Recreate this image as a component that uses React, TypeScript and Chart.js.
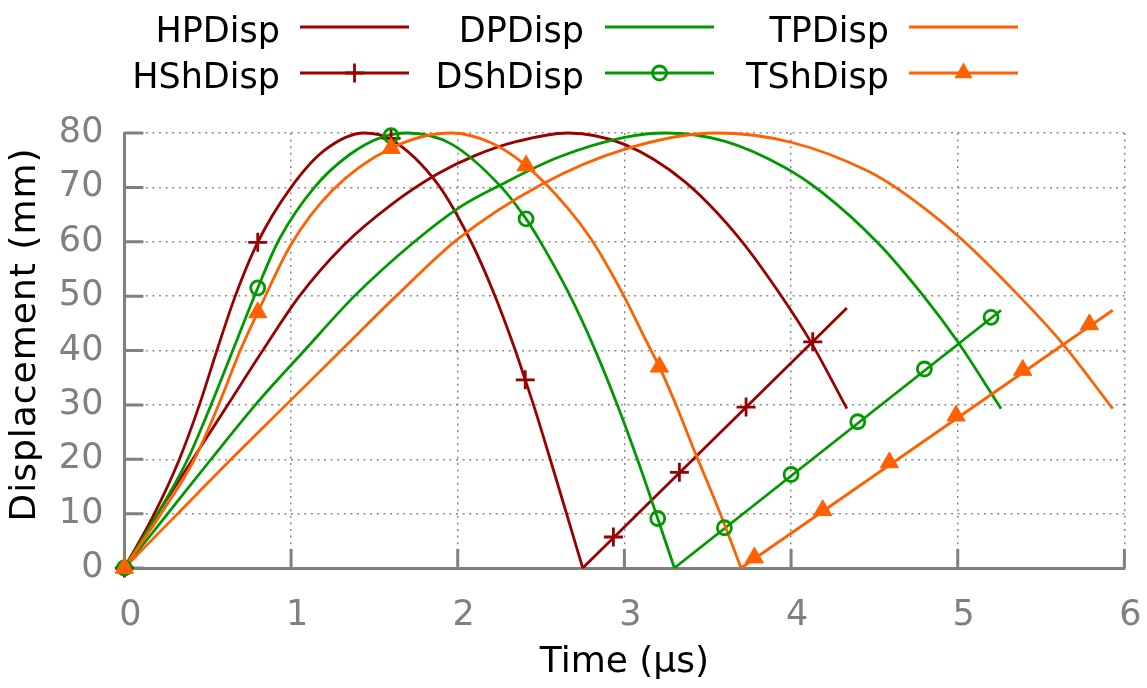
import React, { useEffect, useRef } from "react";
import { Chart, registerables } from "chart.js";

Chart.register(...registerables);

type Pt = [number, number];

// ---------------- data ----------------
const xTickValues = [0, 1, 2, 3, 4, 5, 6];
const yTickValues = [0, 10, 20, 30, 40, 50, 60, 70, 80];
const legendLabels = ["HPDisp", "DPDisp", "TPDisp", "HShDisp", "DShDisp", "TShDisp"];
const xTitle = "Time (μs)";
const yTitle = "Displacement (mm)";

// plain-line series
const hpDisp: Pt[] = [
  [0, 0], [0.2, 10], [0.41, 20], [0.62, 30], [0.83, 40], [1.05, 50], [1.32, 59.5], [1.6, 66.8],
  [1.88, 72.5], [2.1, 75.8], [2.35, 78.4], [2.66, 80], [3.0, 77.9], [3.36, 71.1], [3.68, 61],
  [3.92, 51], [4.12, 41.5], [4.335, 29.3],
];
const dpDisp: Pt[] = [
  [0, 0], [0.26, 10], [0.52, 20], [0.8, 30.5], [1.08, 40], [1.38, 50], [1.74, 60], [2.02, 66.5],
  [2.26, 70.5], [2.6, 75.5], [3.0, 79.2], [3.25, 80], [3.6, 78.5], [3.96, 73.7], [4.18, 69.2],
  [4.52, 59.8], [4.8, 49.8], [5.0, 41.6], [5.26, 29.3],
];
const tpDisp: Pt[] = [
  [0, 0], [0.32, 10], [0.64, 20], [0.97, 30], [1.3, 40], [1.63, 50], [2.0, 60.5], [2.5, 70.5],
  [3.0, 77], [3.55, 80], [4.0, 78.3], [4.46, 73], [4.66, 69.3], [5.0, 61.1], [5.35, 50.6],
  [5.62, 41.6], [5.93, 29.3],
];

// shock series: arc part, then straight part after the bounce
const hShArc: Pt[] = [
  [0, 0], [0.18, 10], [0.33, 20], [0.45, 30], [0.555, 40], [0.665, 50], [0.8, 59.9], [1.0, 70],
  [1.2, 76.8], [1.44, 80], [1.6, 78.8], [1.88, 70.6], [2.08, 60], [2.22, 50.3], [2.34, 40.5],
  [2.405, 34.6], [2.46, 29.5], [2.55, 20.5], [2.65, 10.3], [2.75, 0],
];
const hShRay: Pt[] = [[2.75, 0], [4.335, 47.8]];
const hShMarks: Pt[] = [
  [0, 0], [0.8, 59.9], [1.6, 79], [2.405, 34.6], [2.934, 5.7], [3.33, 17.6], [3.73, 29.6], [4.13, 41.6],
];

const dShArc: Pt[] = [
  [0, 0], [0.2, 10], [0.38, 20], [0.52, 30], [0.65, 40], [0.8, 51.5], [0.93, 60.5], [1.14, 70],
  [1.35, 76], [1.55, 79.3], [1.7, 80], [1.96, 78], [2.26, 70.1], [2.41, 64.2], [2.49, 60.3],
  [2.66, 50.9], [2.82, 40.4], [2.96, 29.8], [3.08, 19.8], [3.2, 9.1], [3.3, 0],
];
const dShRay: Pt[] = [[3.3, 0], [5.26, 47.4]];
const dShMarks: Pt[] = [
  [0, 0], [0.8, 51.5], [1.6, 79.5], [2.41, 64.2], [3.2, 9.1], [3.6, 7.4], [4.0, 17.2], [4.4, 26.9],
  [4.8, 36.6], [5.2, 46.1],
];

const tShArc: Pt[] = [
  [0, 0], [0.22, 10], [0.42, 20], [0.565, 30], [0.695, 40], [0.8, 47], [1.0, 59.5], [1.25, 69.5],
  [1.6, 77.2], [1.96, 80], [2.2, 78.2], [2.41, 74], [2.66, 66.2], [2.8, 60.5], [2.98, 51],
  [3.14, 41.2], [3.21, 37], [3.3, 30.7], [3.43, 20.8], [3.57, 10.4], [3.7, 0],
];
const tShRay: Pt[] = [[3.7, 0], [5.93, 47.4]];
const tShMarks: Pt[] = [
  [0, 0], [0.8, 47], [1.6, 77.2], [2.41, 74], [3.21, 37], [3.78, 1.9], [4.19, 10.6], [4.59, 19.4],
  [4.99, 28.0], [5.39, 36.4], [5.79, 44.8],
];

// ---------------- style ----------------
const RED = "#990000";
const GREEN = "#009900";
const ORANGE = "#ff6000";
const AXIS = "#808080";
const GRID = "#8a8a8a";
const FAMILY = "'DejaVu Sans', 'Verdana', sans-serif";
const LINE_W = 2.8;
const CROSS_R = 9.5;
const CIRCLE_R = 7;
const TRI_R = 10.5;

type MarkerKind = "cross" | "circle" | "triangle" | null;

const toXY = (pts: Pt[]) => pts.map(([x, y]) => ({ x, y }));

function drawMarker(ctx: CanvasRenderingContext2D, kind: MarkerKind, x: number, y: number, color: string) {
  if (!kind) return;
  ctx.save();
  ctx.strokeStyle = color;
  ctx.fillStyle = color;
  ctx.lineWidth = LINE_W;
  ctx.beginPath();
  if (kind === "cross") {
    ctx.moveTo(x - CROSS_R, y);
    ctx.lineTo(x + CROSS_R, y);
    ctx.moveTo(x, y - CROSS_R);
    ctx.lineTo(x, y + CROSS_R);
    ctx.stroke();
  } else if (kind === "circle") {
    ctx.arc(x, y, CIRCLE_R, 0, Math.PI * 2);
    ctx.stroke();
  } else {
    const r = TRI_R;
    ctx.moveTo(x, y - r);
    ctx.lineTo(x + r * Math.sin((2 * Math.PI) / 3), y - r * Math.cos((2 * Math.PI) / 3));
    ctx.lineTo(x + r * Math.sin((4 * Math.PI) / 3), y - r * Math.cos((4 * Math.PI) / 3));
    ctx.closePath();
    ctx.fill();
  }
  ctx.restore();
}

const legendEntries: { label: string; color: string; marker: MarkerKind; col: number; row: number }[] = [
  { label: legendLabels[0], color: RED, marker: null, col: 0, row: 0 },
  { label: legendLabels[1], color: GREEN, marker: null, col: 1, row: 0 },
  { label: legendLabels[2], color: ORANGE, marker: null, col: 2, row: 0 },
  { label: legendLabels[3], color: RED, marker: "cross", col: 0, row: 1 },
  { label: legendLabels[4], color: GREEN, marker: "circle", col: 1, row: 1 },
  { label: legendLabels[5], color: ORANGE, marker: "triangle", col: 2, row: 1 },
];
const legendCols = [
  { textRight: 280, x1: 300, x2: 409 },
  { textRight: 584, x1: 605, x2: 714 },
  { textRight: 889, x1: 909, x2: 1018 },
];
const legendRows = [
  { base: 42, line: 27 },
  { base: 88, line: 73 },
];

const decorPlugin = {
  id: "decor",
  beforeDatasetsDraw(chart: any) {
    const { ctx, chartArea: a, scales } = chart;
    ctx.save();
    ctx.strokeStyle = AXIS;
    ctx.lineWidth = 3;
    ctx.beginPath();
    for (const v of yTickValues) {
      const y = scales.y.getPixelForValue(v);
      ctx.moveTo(a.left, y);
      ctx.lineTo(a.left + 19, y);
    }
    for (const v of xTickValues) {
      const x = scales.x.getPixelForValue(v);
      ctx.moveTo(x, a.bottom);
      ctx.lineTo(x, a.bottom - 19);
    }
    ctx.stroke();
    ctx.restore();
  },
  afterDraw(chart: any) {
    const { ctx, chartArea: a } = chart;
    // y axis title
    ctx.save();
    ctx.translate(26, (a.top + a.bottom) / 2 - 16);
    ctx.rotate(-Math.PI / 2);
    ctx.fillStyle = "#000";
    ctx.font = `36px ${FAMILY}`;
    try {
      (ctx as any).letterSpacing = "1px";
    } catch (e) {}
    ctx.textAlign = "center";
    ctx.textBaseline = "middle";
    ctx.fillText(yTitle, 0, 0);
    ctx.restore();

    // legend
    ctx.save();
    ctx.font = `35px ${FAMILY}`;
    ctx.textAlign = "right";
    ctx.textBaseline = "alphabetic";
    for (const e of legendEntries) {
      const c = legendCols[e.col];
      const r = legendRows[e.row];
      ctx.fillStyle = "#000";
      ctx.fillText(e.label, c.textRight, r.base);
      ctx.strokeStyle = e.color;
      ctx.lineWidth = LINE_W;
      ctx.beginPath();
      ctx.moveTo(c.x1, r.line);
      ctx.lineTo(c.x2, r.line);
      ctx.stroke();
      drawMarker(ctx, e.marker, (c.x1 + c.x2) / 2, r.line, e.color);
    }
    ctx.restore();
  },
};

function curve(label: string, pts: Pt[], color: string, order: number, smooth: boolean) {
  return {
    type: "line" as const,
    label,
    data: toXY(pts),
    borderColor: color,
    backgroundColor: color,
    borderWidth: LINE_W,
    pointRadius: 0,
    pointHoverRadius: 0,
    fill: false,
    cubicInterpolationMode: smooth ? ("monotone" as const) : ("default" as const),
    tension: smooth ? 0.4 : 0,
    clip: false as const,
    order,
  };
}

function marks(label: string, pts: Pt[], color: string, style: string, radius: number, filled: boolean, order: number) {
  return {
    type: "line" as const,
    label,
    data: toXY(pts),
    showLine: false,
    pointStyle: style,
    pointRadius: radius,
    pointHoverRadius: radius,
    pointBorderWidth: filled ? 1 : LINE_W,
    pointBorderColor: color,
    pointBackgroundColor: filled ? color : "rgba(0,0,0,0)",
    borderColor: color,
    backgroundColor: color,
    clip: false as const,
    order,
  };
}

export default function App() {
  const ref = useRef<HTMLCanvasElement | null>(null);

  useEffect(() => {
    if (!ref.current) return;
    const tickFont = { family: FAMILY, size: 35 };
    const chart = new Chart(ref.current, {
      type: "line",
      data: {
        datasets: [
          curve(legendLabels[0], hpDisp, RED, 12, true),
          curve(legendLabels[3], hShArc, RED, 11, true),
          curve(legendLabels[3], hShRay, RED, 10, false),
          curve(legendLabels[1], dpDisp, GREEN, 9, true),
          curve(legendLabels[4], dShArc, GREEN, 8, true),
          curve(legendLabels[4], dShRay, GREEN, 7, false),
          curve(legendLabels[2], tpDisp, ORANGE, 6, true),
          curve(legendLabels[5], tShArc, ORANGE, 5, true),
          curve(legendLabels[5], tShRay, ORANGE, 4, false),
          marks(legendLabels[3], hShMarks, RED, "cross", CROSS_R, false, 3),
          marks(legendLabels[4], dShMarks, GREEN, "circle", CIRCLE_R, false, 2),
          marks(legendLabels[5], tShMarks, ORANGE, "triangle", TRI_R, true, 1),
        ] as any,
      },
      options: {
        responsive: false,
        maintainAspectRatio: false,
        devicePixelRatio: 1,
        animation: false,
        events: [],
        layout: { padding: { top: 133, right: 22.6, left: 0, bottom: 0 } },
        plugins: {
          legend: { display: false },
          tooltip: { enabled: false },
          title: { display: false },
        },
        scales: {
          x: {
            type: "linear",
            min: 0,
            max: 6,
            afterFit: (s: any) => {
              s.height = 120;
            },
            afterBuildTicks: (s: any) => {
              s.ticks = xTickValues.map((v) => ({ value: v }));
            },
            ticks: {
              color: AXIS,
              font: tickFont,
              padding: 0,
              labelOffset: 6,
              maxRotation: 0,
              autoSkip: false,
            },
            grid: {
              display: true,
              color: GRID,
              lineWidth: 1.5,
              drawTicks: true,
              tickLength: 27,
              tickColor: "rgba(0,0,0,0)",
            },
            border: { display: true, color: AXIS, width: 3, dash: [2, 4.6] },
            title: {
              display: true,
              text: xTitle,
              color: "#000",
              font: { family: FAMILY, size: 36 },
              padding: { top: 0, bottom: 4 },
            },
          },
          y: {
            type: "linear",
            min: 0,
            max: 80,
            afterFit: (s: any) => {
              s.width = 124.4;
            },
            afterBuildTicks: (s: any) => {
              s.ticks = yTickValues.map((v) => ({ value: v }));
            },
            ticks: { color: AXIS, font: tickFont, padding: 21, autoSkip: false },
            grid: { display: true, color: GRID, lineWidth: 1.5, drawTicks: false },
            border: { display: true, color: AXIS, width: 3, dash: [2, 4.6] },
            title: { display: false },
          },
        },
      } as any,
      plugins: [decorPlugin],
    });
    return () => chart.destroy();
  }, []);

  return (
    <div style={{ position: "absolute", left: 0, top: 0, width: 1147, height: 688, background: "#fff" }}>
      <canvas ref={ref} width={1147} height={688} style={{ display: "block" }} />
    </div>
  );
}
